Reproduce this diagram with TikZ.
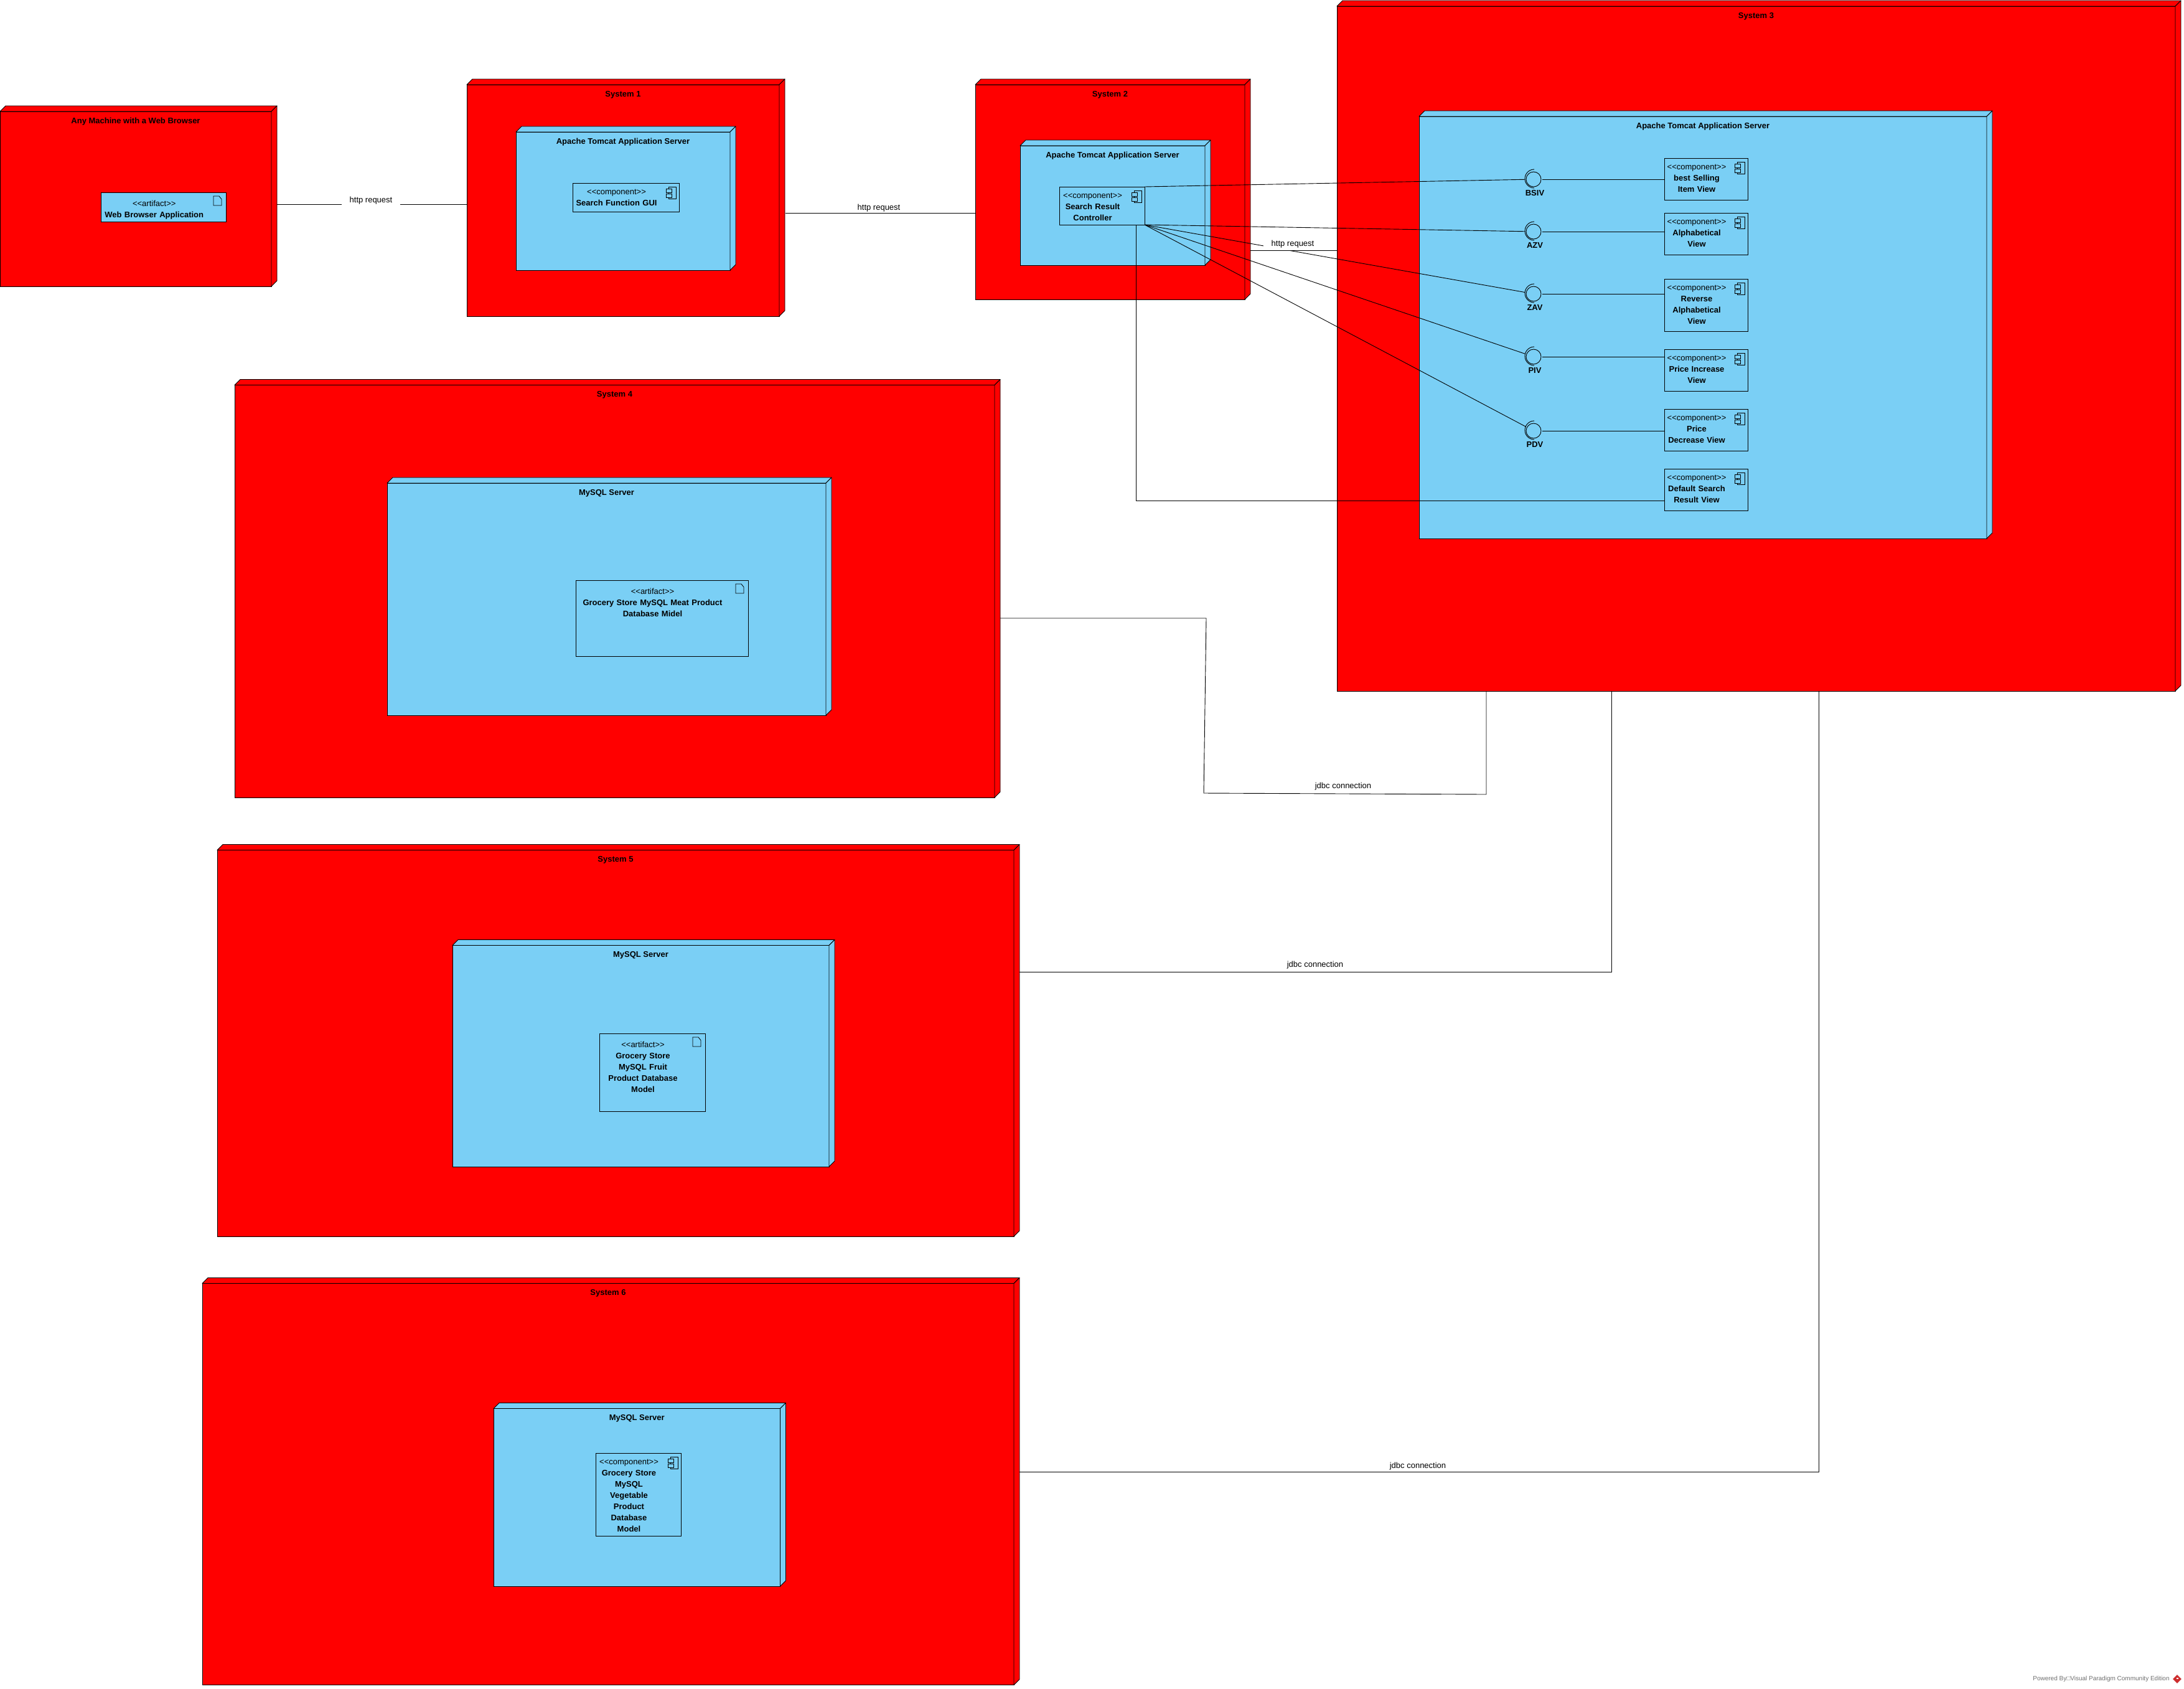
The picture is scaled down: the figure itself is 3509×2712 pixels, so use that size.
\documentclass[tikz,border=0pt]{standalone}
\usepackage{fontspec}
\setmainfont{Liberation Sans}
\usepackage{tikz}
\usetikzlibrary{shapes.geometric, positioning}
\definecolor{colRed}{RGB}{255,0,0}
\definecolor{colSky}{RGB}{122,207,245}
\definecolor{colGrey}{RGB}{110,110,110}
\definecolor{colLogo}{RGB}{205,45,45}
\tikzset{
    cubebox/.style={rectangle, draw=black, line width=0.9pt, anchor=north west,
        inner sep=0pt, outer sep=0pt},
    cubeface/.style={draw=black, line width=0.9pt, line join=round},
    cubetitle/.style={inner sep=0pt, text height=10pt, text depth=3pt,
        font=\fontsize{13}{18}\selectfont\bfseries},
    leafbox/.style={rectangle, draw=black, line width=0.9pt, fill=colSky, anchor=north west,
        inner sep=0pt, outer sep=0pt},
    leaftext/.style={inner sep=0pt, align=center, font=\fontsize{13}{18}\selectfont},
    leaficon/.style={draw=black, line width=0.8pt, fill=colSky},
    iface/.style={circle, draw=black, line width=0.9pt, fill=colSky, minimum size=24pt,
        inner sep=0pt, outer sep=2pt},
    ifacename/.style={inner sep=0pt, text height=10pt, text depth=3pt, xshift=2pt,
        font=\fontsize{13}{18}\selectfont\bfseries},
    conn/.style={draw=black, line width=0.9pt},
    linklabel/.style={inner sep=0pt, font=\fontsize{13}{18}\selectfont},
    linkgap/.style={linklabel, fill=white, minimum width=94pt, minimum height=18pt},
    powered/.style={inner sep=0pt, text=colGrey, font=\fontsize{10}{12}\selectfont},
    vplogo/.style={diamond, fill=colLogo, minimum size=14pt, inner sep=0pt,
        path picture={\fill[white] (path picture bounding box.center) +(-1,-2) rectangle +(2,0);}}
}
\newcommand{\stereo}[1]{<{}<#1>{}>}
\newcommand{\depnode}[7]{
    \node[cubebox, fill=#2, minimum width=#5, minimum height=#6] (#1) at (#3,#4) {};
    \draw[cubeface, fill=#2] (#1.north west) -- ++(9,-9) -- ([shift={(9,-9)}]#1.north east) -- (#1.north east) -- cycle;
    \draw[cubeface, fill=#2] (#1.north east) -- ++(9,-9) -- ([shift={(9,-9)}]#1.south east) -- (#1.south east) -- cycle;
    \node[cubetitle, below=9pt of #1.north] (#1title) {#7};
}
\newcommand{\compnode}[6]{
    \node[leafbox, minimum width=#4, minimum height=#5] (#1) at (#2,#3) {};
    \node[leaftext, text width=#4, below=10pt of #1.north, xshift=-15pt] (#1text) {\stereo{component}\\\bfseries #6};
    \draw[leaficon] (#1.north east) ++(-17,6) rectangle ++(12,19);
    \draw[leaficon] (#1.north east) ++(-21,9) rectangle ++(9,6);
    \draw[leaficon] (#1.north east) ++(-21,17) rectangle ++(9,6);
}
\newcommand{\artnode}[6]{
    \node[leafbox, minimum width=#4, minimum height=#5] (#1) at (#2,#3) {};
    \node[leaftext, text width=#4, below=13pt of #1.north, xshift=-15pt] (#1text) {\stereo{artifact}\\\bfseries #6};
    \draw[leaficon] (#1.north east) ++(-20,6) -- ++(9,0) -- ++(4,5) -- ++(0,10) -- ++(-13,0) -- cycle;
}
\newcommand{\ifacenode}[4]{
    \node[iface] (#1) at (#2,#3) {};
    \draw[conn] (#1.center) ++(1,-16) arc[start angle=90, end angle=270, radius=15pt];
    \node[ifacename, below=2pt of #1] (#1name) {#4};
}

\begin{document}
\begin{tikzpicture}[x=1pt, y=-1pt]

    \useasboundingbox (0,0) rectangle (3509,2712);

    \depnode{browser}{colRed}{0}{179}{436}{281}{Any Machine with a Web Browser}
    \artnode{webapp}{162.5}{309}{200.5}{47}{Web Browser Application}

    \depnode{sysone}{colRed}{750}{136}{502}{372}{System 1}
    \depnode{tomone}{colSky}{829}{212}{344}{222}{Apache Tomcat Application Server}
    \compnode{searchgui}{920}{294}{171}{46}{Search Function GUI}

    \depnode{systwo}{colRed}{1567}{136}{433}{345}{System 2}
    \depnode{tomtwo}{colSky}{1639}{234}{297}{192}{Apache Tomcat Application Server}
    \compnode{ctrl}{1702}{300}{137}{61}{Search Result\\Controller}

    \depnode{systhree}{colRed}{2148}{10}{1347}{1100}{System 3}
    \depnode{tomthree}{colSky}{2280}{187}{912}{678}{Apache Tomcat Application Server}
    \compnode{bestview}{2674}{254}{134}{67}{best Selling\\Item View}
    \compnode{azview}{2674}{342}{134}{67}{Alphabetical\\View}
    \compnode{zaview}{2674}{448}{134}{84.5}{Reverse\\Alphabetical\\View}
    \compnode{piview}{2674}{561}{134}{67}{Price Increase\\View}
    \compnode{pdview}{2674}{657}{134}{67}{Price\\Decrease View}
    \compnode{defview}{2674}{753}{134}{67}{Default Search\\Result View}
    \ifacenode{bsiv}{2464}{288}{BSIV}
    \ifacenode{azv}{2464}{372}{AZV}
    \ifacenode{zav}{2464}{472}{ZAV}
    \ifacenode{piv}{2464}{573}{PIV}
    \ifacenode{pdv}{2464}{692}{PDV}

    \depnode{sysfour}{colRed}{377}{618.5}{1221}{662.5}{System 4}
    \depnode{dbfour}{colSky}{622}{776}{705}{373}{MySQL Server}
    \artnode{meatdb}{925}{932}{277}{122}{Grocery Store MySQL Meat Product\\Database Midel}

    \depnode{sysfive}{colRed}{349}{1365.5}{1280}{620.5}{System 5}
    \depnode{dbfive}{colSky}{727}{1518.5}{605}{355.5}{MySQL Server}
    \artnode{fruitdb}{963}{1660}{170}{125}{Grocery Store\\MySQL Fruit\\Product Database\\Model}

    \depnode{syssix}{colRed}{325}{2061.5}{1304}{645}{System 6}
    \depnode{dbsix}{colSky}{793}{2262.5}{460.5}{285.5}{MySQL Server}
    \compnode{vegdb}{957}{2334}{137}{133}{Grocery Store\\MySQL\\Vegetable\\Product\\Database\\Model}

    \coordinate (httpa) at (445,328);
    \coordinate (httpb) at (1262,342);
    \coordinate (httpc) at (2009,402);
    \coordinate (meatc) at (1938,993);
    \coordinate (meatd) at (1934,1274);
    \coordinate (meate) at (2388,1276);
    \coordinate (fruitc) at (2589,1561);
    \coordinate (vegc) at (2922,2364.5);

    \draw[conn] (httpa) -- (httpa -| sysone.west);
    \draw[conn] (httpb) -- (httpb -| systwo.west);
    \draw[conn] (httpc) -- (httpc -| systhree.west);
    \draw[conn] ([xshift=9pt]sysfour.east |- meatc) -- (meatc) -- (meatd) -- (meate) -- (meate |- systhree.south);
    \draw[conn] ([xshift=9pt]sysfive.east |- fruitc) -- (fruitc) -- (fruitc |- systhree.south);
    \draw[conn] ([xshift=9pt]syssix.east |- vegc) -- (vegc) -- (vegc |- systhree.south);

    \draw[conn] (ctrl.north east) -- (bsiv);
    \draw[conn] (ctrl.south east) -- (azv);
    \draw[conn] (ctrl.south east) -- (zav);
    \draw[conn] (ctrl.south east) -- (piv);
    \draw[conn] (ctrl.south east) -- (pdv);
    \draw[conn] (bsiv.east) -- (bsiv.east -| bestview.west);
    \draw[conn] (azv.east) -- (azv.east -| azview.west);
    \draw[conn] (zav.east) -- (zav.east -| zaview.west);
    \draw[conn] (piv.east) -- (piv.east -| piview.west);
    \draw[conn] (pdv.east) -- (pdv.east -| pdview.west);
    \coordinate (defa) at (1825.5,804);
    \draw[conn] (defa |- ctrl.south) -- (defa) -- (defa -| defview.west);

    \node[linkgap] (httpone) at (596,322) {http request};
    \node[linklabel] (httptwo) at (1412,334.5) {http request};
    \node[linkgap] (httpthree) at (2077,392.5) {http request};
    \node[linklabel] (jdbcone) at (2158,1263) {jdbc connection};
    \node[linklabel] (jdbctwo) at (2113,1550) {jdbc connection};
    \node[linklabel] (jdbcthree) at (2278,2355) {jdbc connection};

    \node[vplogo] (logo) at (3498,2697) {};
    \node[powered, left=5pt of logo] (poweredby) {Powered By□Visual Paradigm Community Edition};

\end{tikzpicture}
\end{document}
